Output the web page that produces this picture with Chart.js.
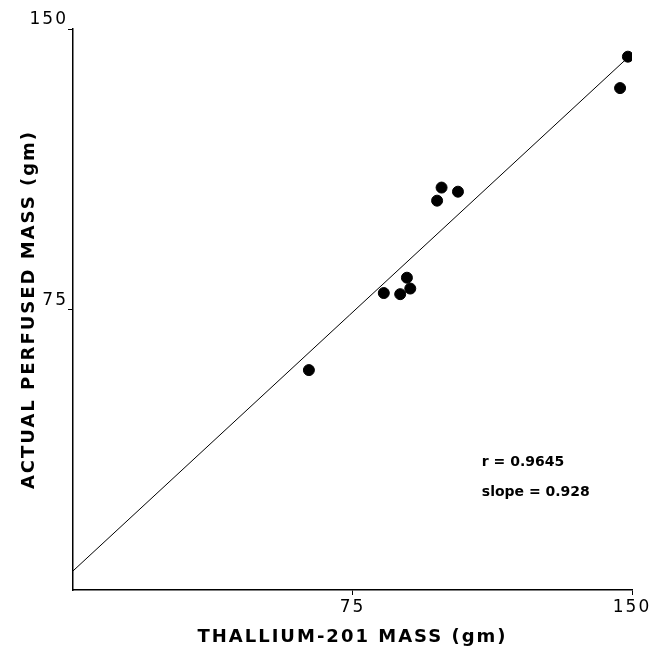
<!DOCTYPE html>
<html>
<head>
<meta charset="utf-8">
<script src="https://cdn.jsdelivr.net/npm/chart.js@4.4.0/dist/chart.umd.min.js"></script>
<style>
  html, body { margin: 0; padding: 0; background: #fff; }
  #wrap { width: 662px; height: 653px; }
</style>
</head>
<body>
<div id="wrap"><canvas id="c" width="662" height="653"></canvas></div>
<script>
// measured points (thallium-201 mass vs actual perfused mass, gm)
const thalliumMass = [148.9, 146.8, 98.9, 103.3, 97.7, 89.6, 90.5, 87.8, 83.4, 63.3];
const perfusedMass = [142.6, 134.2, 107.6, 106.5, 104.1, 83.5, 80.6, 79.1, 79.4, 58.8];

// regression line end points
const fitX = [0, 148.5];
const fitY = [5.1, 142.0];

const tickValues = [75, 150];
const notes = ['r = 0.9645', 'slope = 0.928'];
const notePos = { x: 109.7, y: [34.1, 26.1] };

const points = thalliumMass.map((x, i) => ({ x, y: perfusedMass[i] }));
const fitLine = fitX.map((x, i) => ({ x, y: fitY[i] }));

/* letter spacing for the stencil-style lettering */
const spacingPlugin = {
  id: 'spacing',
  beforeDraw(chart) {
    chart.ctx.letterSpacing = '2px';
  },
};

/* r and slope annotation */
const notePlugin = {
  id: 'notes',
  afterDatasetsDraw(chart) {
    const { ctx, scales } = chart;
    ctx.save();
    ctx.letterSpacing = '0px';
    ctx.fillStyle = '#000';
    ctx.font = 'bold 14px "DejaVu Sans"';
    ctx.textBaseline = 'middle';
    notes.forEach((t, i) => {
      ctx.fillText(t, scales.x.getPixelForValue(notePos.x), scales.y.getPixelForValue(notePos.y[i]));
    });
    ctx.restore();
  },
};

const axisFont = { family: '"DejaVu Sans"', size: 17 };
const titleFont = { family: '"DejaVu Sans"', size: 18, weight: 'bold' };

new Chart(document.getElementById('c'), {
  type: 'scatter',
  data: {
    datasets: [
      {
        label: 'fit',
        type: 'line',
        data: fitLine,
        borderColor: '#000',
        borderWidth: 1,
        pointRadius: 0,
        fill: false,
        order: 2,
      },
      {
        label: 'points',
        data: points,
        backgroundColor: '#000',
        borderColor: '#000',
        pointRadius: 5.5,
        order: 1,
      },
    ],
  },
  plugins: [spacingPlugin, notePlugin],
  options: {
    responsive: false,
    animation: false,
    devicePixelRatio: 1,
    layout: { padding: { top: 29, right: 30, left: 0, bottom: 0 } },
    plugins: { legend: { display: false }, tooltip: { enabled: false } },
    scales: {
      x: {
        type: 'linear',
        min: 0,
        max: 150,
        afterFit(s) { s.height = 63; },
        afterBuildTicks(s) { s.ticks = tickValues.map((v) => ({ value: v })); },
        border: { color: '#000', width: 1.5 },
        grid: { drawOnChartArea: false, color: '#000', tickLength: 5, lineWidth: 1 },
        ticks: { color: '#000', font: axisFont, padding: 2, maxRotation: 0 },
        title: {
          display: true,
          text: 'THALLIUM-201 MASS (gm)',
          color: '#000',
          font: titleFont,
          padding: { top: 0, bottom: 5 },
        },
      },
      y: {
        type: 'linear',
        min: 0,
        max: 150,
        afterFit(s) { s.width = 73; },
        afterBuildTicks(s) { s.ticks = tickValues.map((v) => ({ value: v })); },
        border: { color: '#000', width: 1.5 },
        grid: { drawOnChartArea: false, color: '#000', tickLength: 5, lineWidth: 1 },
        ticks: { color: '#000', font: axisFont, padding: 0, labelOffset: -9 },
        title: {
          display: true,
          text: 'ACTUAL PERFUSED MASS (gm)',
          color: '#000',
          font: titleFont,
          padding: { top: 19, bottom: 0 },
        },
      },
    },
  },
});
</script>
</body>
</html>
